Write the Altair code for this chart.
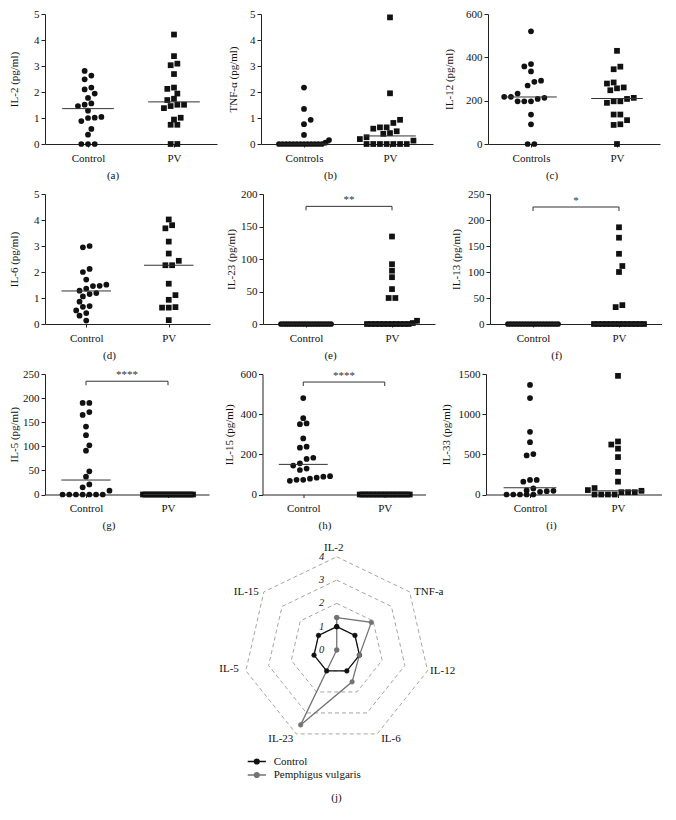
import math
import altair as alt
import pandas as pd

FONT = "Liberation Serif"
INK = "#111111"

# ---------------- data ----------------
a_ctrl = [2.81, 2.63, 2.49, 2.17, 2.10, 1.94, 1.77, 1.56, 1.51, 1.46, 1.28, 1.04, 1.01, 1.00, 0.88, 0.58, 0.36, 0, 0, 0]
a_pv = [4.21, 3.38, 3.09, 3.03, 2.69, 2.17, 2.12, 1.94, 1.74, 1.69, 1.51, 1.51, 1.46, 1.38, 1.01, 0.94, 0.74, 0.74, 0, 0]
a_med = [1.36, 1.62]

b_ctrl = [2.17, 1.35, 0.93, 0.76, 0.35, 0.15, 0.05, 0, 0, 0, 0, 0, 0, 0, 0, 0, 0, 0, 0, 0]
b_pv = [4.87, 1.95, 0.93, 0.81, 0.64, 0.64, 0.59, 0.49, 0.42, 0.39, 0.26, 0.19, 0.13, 0, 0, 0, 0, 0, 0, 0]
b_med = [0, 0.31]

c_ctrl = [520, 369, 358, 335, 292, 287, 270, 233, 218, 218, 213, 208, 197, 197, 197, 136, 91, 0, 0]
c_pv = [430, 357, 345, 284, 279, 261, 257, 248, 213, 208, 197, 197, 190, 136, 136, 110, 91, 88, 0]
c_med = [217, 210]

d_ctrl = [3.00, 2.95, 2.12, 2.00, 1.71, 1.51, 1.47, 1.46, 1.36, 1.28, 1.19, 1.15, 1.06, 0.86, 0.69, 0.66, 0.52, 0.42, 0.32, 0.13]
d_pv = [4.02, 3.80, 3.68, 3.17, 2.71, 2.43, 2.26, 2.26, 1.55, 1.11, 0.93, 0.65, 0.63, 0.63, 0.15]
d_med = [1.27, 2.26]

e_ctrl = [0, 0, 0, 0, 0, 0, 0, 0, 0, 0, 0, 0, 0, 0, 0, 0, 0, 0, 0, 0]
e_pv = [134.6, 92, 82, 72, 53.7, 40, 40, 5, 1.5, 0, 0, 0, 0, 0, 0, 0, 0, 0, 0, 0]
e_med = [0, 0]

f_ctrl = [0, 0, 0, 0, 0, 0, 0, 0, 0, 0, 0, 0, 0, 0, 0, 0, 0, 0]
f_pv = [186, 166, 135, 111.5, 100, 36.3, 32.5, 0, 0, 0, 0, 0, 0, 0, 0, 0, 0, 0, 0, 0]
f_med = [0, 0]

g_ctrl = [190, 190, 171, 165, 141, 123, 102, 91, 48, 37, 21, 15, 8, 0, 0, 0, 0, 0, 0, 0]
g_pv = [0, 0, 0, 0, 0, 0, 0, 0, 0, 0, 0, 0, 0, 0, 0, 0, 0, 0, 0, 0]
g_med = [30, 0]

h_ctrl = [480, 380, 354, 350, 279, 238, 233, 183, 177, 155, 144, 129, 122, 91, 89, 84, 79, 73, 73, 68]
h_pv = [0, 0, 0, 0, 0, 0, 0, 0, 0, 0, 0, 0, 0, 0, 0, 0, 0, 0, 0, 0]
h_med = [150, 0]

i_ctrl = [1364, 1200, 781, 651, 504, 487, 181, 181, 160, 76, 50, 46, 42, 34, 0, 0, 0, 0, 0]
i_pv = [1477, 660, 622, 571, 466, 282, 160, 80, 55, 46, 29, 29, 29, 0, 0, 0, 0]
i_med = [84, 46]

# significance brackets: (level, label)
e_sig = (181, "**")
f_sig = (225, "*")
g_sig = (235, "****")
h_sig = (560, "****")

# radar (fold change relative to control)
radar_axes = ["IL-2", "TNF-a", "IL-12", "IL-6", "IL-23", "IL-5", "IL-15"]
radar_control = [1, 1, 1, 1, 1, 1, 1]
radar_pv = [1.39, 1.90, 1.00, 1.52, 3.57, 0, 0]
ring_levels = [1, 2, 3, 4]
ring_ticks = [0, 1, 2, 3, 4]
groups = ["Control", "Pemphigus vulgaris"]

L0 = 22  # common label extent of the first column (keeps the column aligned)


# ---------------- helpers ----------------
def swarm(vals, dmax, H, d=6.7, maxhalf=25.0, thr=4.0):
    """Prism-like horizontal arrangement of points (offsets in px)."""
    n = len(vals)
    ys = [v / dmax * H for v in vals]
    order = sorted(range(n), key=lambda i: ys[i])
    rows = []
    for i in order:
        if rows and ys[i] - ys[rows[-1][0]] < thr:
            rows[-1].append(i)
        else:
            rows.append([i])
    offs = [0.0] * n
    placed = []
    for row in rows:
        m = len(row)
        s = d if m == 1 else min(d, 2 * maxhalf / (m - 1))
        base = [(k - (m - 1) / 2.0) * s for k in range(m)]
        chosen = 0.0
        done = False
        for k in range(0, 9):
            cands = [0.0] if k == 0 else [k * d / 2.0, -k * d / 2.0]
            for sh in cands:
                ok = True
                for b, i in zip(base, row):
                    for (px, py) in placed:
                        if (b + sh - px) ** 2 + (ys[i] - py) ** 2 < (0.92 * d) ** 2:
                            ok = False
                            break
                    if not ok:
                        break
                if ok:
                    chosen = sh
                    done = True
                    break
            if done:
                break
        for b, i in zip(base, row):
            offs[i] = b + chosen
            placed.append((b + chosen, ys[i]))
    return offs


def scatter_panel(title, cats, ctrl, pv, med, ticks, caption, W, H, L, sig=None):
    dmax = ticks[-1]
    rows = []
    for g, (vals, shape) in enumerate([(ctrl, "circle"), (pv, "square")]):
        offs = swarm(vals, dmax, H)
        for v, o in zip(vals, offs):
            rows.append({"pos": g + o / (W / 2.0), "value": v, "shape": shape})
    pts = pd.DataFrame(rows)
    E = L + 4 + 11
    xs = alt.Scale(domain=[-0.5, 1.5], nice=False, zero=False)
    ys = alt.Scale(domain=[0, dmax], nice=False)
    xaxis = alt.Axis(values=[0, 1], labelExpr=f"datum.value == 0 ? '{cats[0]}' : '{cats[1]}'",
                     title=caption, titleX=(W - E) / 2.0, tickSize=3, labelPadding=5,
                     titlePadding=6, grid=False, labelFlush=False)
    yaxis = alt.Axis(values=ticks, format="d", title=title, titlePadding=4, minExtent=L,
                     maxExtent=L, tickSize=4, labelPadding=2, grid=False)

    def X(f):
        return alt.X(f, scale=xs, axis=xaxis)

    def Y(f):
        return alt.Y(f, scale=ys, axis=yaxis)

    layers = []
    layers.append(alt.Chart(pts).mark_point(filled=True, opacity=1, color=INK, size=33).encode(
        x=X("pos:Q"), y=Y("value:Q"), shape=alt.Shape("shape:N", scale=None)))
    med_df = pd.DataFrame({"grp": [0, 1], "value": med})
    layers.append(alt.Chart(med_df).transform_calculate(
        x1="datum.grp - 0.3", x2="datum.grp + 0.3").mark_rule(color="#333333", strokeWidth=1).encode(
        x=X("x1:Q"), x2="x2:Q", y=Y("value:Q")))
    if sig is not None:
        lvl, lab = sig
        tick = 4.0 / H * dmax
        br = pd.DataFrame({"a": [0], "b": [1], "lvl": [lvl], "lab": [lab]})
        ends = pd.DataFrame({"p": [0, 1], "lvl": [lvl, lvl]})
        layers.append(alt.Chart(br).mark_rule(color="#333333", strokeWidth=1).encode(
            x=X("a:Q"), x2="b:Q", y=Y("lvl:Q")))
        layers.append(alt.Chart(ends).transform_calculate(low=f"datum.lvl - {tick}").mark_rule(
            color="#333333", strokeWidth=1).encode(x=X("p:Q"), y=Y("lvl:Q"), y2="low:Q"))
        layers.append(alt.Chart(br).transform_calculate(mid="(datum.a + datum.b) / 2").mark_text(
            baseline="bottom", dy=-1, fontSize=11, font=FONT, color="#333333").encode(
            x=X("mid:Q"), y=Y("lvl:Q"), text="lab:N"))
    return alt.layer(*layers).properties(width=W, height=H)


pa = scatter_panel("IL-2 (pg/ml)", ["Control", "PV"], a_ctrl, a_pv, a_med, [0, 1, 2, 3, 4, 5], "(a)", 172, 130, L0)
pb = scatter_panel("TNF-α (pg/ml)", ["Controls", "PV"], b_ctrl, b_pv, b_med, [0, 1, 2, 3, 4, 5], "(b)", 172, 130, 19)
pc = scatter_panel("IL-12 (pg/ml)", ["Controls", "PV"], c_ctrl, c_pv, c_med, [0, 200, 400, 600], "(c)", 172, 130, 30)

pd_ = scatter_panel("IL-6 (pg/ml)", ["Control", "PV"], d_ctrl, d_pv, d_med, [0, 1, 2, 3, 4, 5], "(d)", 165, 130, L0)
pe = scatter_panel("IL-23 (pg/ml)", ["Control", "PV"], e_ctrl, e_pv, e_med, [0, 50, 100, 150, 200], "(e)", 172, 130, 23, e_sig)
pf = scatter_panel("IL-13 (pg/ml)", ["Control", "PV"], f_ctrl, f_pv, f_med, [0, 50, 100, 150, 200, 250], "(f)", 172, 130, 24.5, f_sig)

pg = scatter_panel("IL-5 (pg/ml)", ["Control", "PV"], g_ctrl, g_pv, g_med, [0, 50, 100, 150, 200, 250], "(g)", 164, 120.5, L0, g_sig)
ph = scatter_panel("IL-15 (pg/ml)", ["Control", "PV"], h_ctrl, h_pv, h_med, [0, 200, 400, 600], "(h)", 163, 120.5, 24, h_sig)
pi = scatter_panel("IL-33 (pg/ml)", ["Control", "PV"], i_ctrl, i_pv, i_med, [0, 500, 1000, 1500], "(i)", 176, 120.5, 31)

row1 = alt.hconcat(pa, pb, pc, spacing=10)
row2 = alt.hconcat(pd_, pe, pf, spacing=15)
row3 = alt.hconcat(pg, ph, pi, spacing=14.5)
grid = alt.vconcat(row1, row2, row3, spacing=8)

# ---------------- radar ----------------
N = len(radar_axes)
ANG = f"datum.idx * 2 * PI / {N}"
poly_rows = []
for grp, vals in zip(groups, [radar_control, radar_pv]):
    for i, v in enumerate(vals + vals[:1]):
        poly_rows.append({"group": grp, "idx": i, "value": v})
poly = pd.DataFrame(poly_rows)
rings = pd.DataFrame([{"level": lv, "idx": i} for lv in ring_levels for i in range(N + 1)])
axlab = pd.DataFrame({"idx": list(range(N)), "name": radar_axes})
rticks = pd.DataFrame({"level": ring_ticks})

RW, RH = 583, 249
rx = alt.Scale(domain=[-12.52, 12.50], nice=False, zero=False)
ry = alt.Scale(domain=[-5.84, 4.85], nice=False, zero=False)
cs = alt.Scale(domain=groups, range=["#111111", "#737373"])
PATH = "M-1.4,0L1.4,0M0.38,0A0.38,0.38,0,1,1,-0.38,0A0.38,0.38,0,1,1,0.38,0Z"
LEG = alt.Legend(title=None, orient="none", legendX=204.3, legendY=217, symbolType=PATH,
                 symbolSize=169, symbolStrokeWidth=1.3, labelFont=FONT, labelFontSize=11,
                 labelColor=INK, labelOffset=9.4, rowPadding=0.5, padding=0)
# hidden y axis: gives the radar the same left extent as the first column of panels
RAXIS = alt.Axis(title="IL-2 (pg/ml)", titleColor="transparent", labelColor="transparent",
                 ticks=False, domain=False, grid=False, minExtent=L0, maxExtent=L0, titlePadding=4)


def RX(f):
    return alt.X(f, scale=rx, axis=None)


def RY(f):
    return alt.Y(f, scale=ry, axis=RAXIS)


ring_layer = alt.Chart(rings).transform_calculate(
    x=f"datum.level * sin({ANG})", y=f"datum.level * cos({ANG})").mark_line(
    color="#9a9a9a", strokeDash=[4, 3], strokeWidth=0.9).encode(
    x=RX("x:Q"), y=RY("y:Q"), detail="level:N", order="idx:Q")

tick_layer = alt.Chart(rticks).transform_calculate(x="0", y="datum.level").mark_text(
    font=FONT, fontSize=10.5, fontStyle="italic", color="#222222", dx=-15, baseline="middle").encode(
    x=RX("x:Q"), y=RY("y:Q"), text="level:N")

label_styles = [
    dict(align="center", baseline="bottom", dx=-3, dy=-4),
    dict(align="left", baseline="middle", dx=4.5, dy=0),
    dict(align="left", baseline="middle", dx=2.5, dy=0),
    dict(align="left", baseline="top", dx=4, dy=-1),
    dict(align="right", baseline="top", dx=-3, dy=-1),
    dict(align="right", baseline="middle", dx=-7, dy=-2),
    dict(align="right", baseline="middle", dx=-5, dy=0),
]
RMAX = max(ring_levels)
label_layers = []
for k, st in enumerate(label_styles):
    label_layers.append(alt.Chart(axlab).transform_filter(f"datum.idx == {k}").transform_calculate(
        x=f"{RMAX} * sin({ANG})", y=f"{RMAX} * cos({ANG})").mark_text(
        font=FONT, fontSize=11, color=INK, **st).encode(x=RX("x:Q"), y=RY("y:Q"), text="name:N"))

line_layer = alt.Chart(poly).transform_calculate(
    x=f"datum.value * sin({ANG})", y=f"datum.value * cos({ANG})").mark_line(strokeWidth=1.3).encode(
    x=RX("x:Q"), y=RY("y:Q"), stroke=alt.Stroke("group:N", scale=cs, legend=LEG), order="idx:Q")

pt_layer = alt.Chart(poly).transform_calculate(
    x=f"datum.value * sin({ANG})", y=f"datum.value * cos({ANG})").mark_point(
    filled=True, opacity=1, size=22, strokeWidth=0.5).encode(
    x=RX("x:Q"), y=RY("y:Q"),
    fill=alt.Fill("group:N", scale=cs, legend=LEG),
    stroke=alt.Stroke("group:N", scale=cs, legend=LEG))

radar = alt.layer(ring_layer, tick_layer, *label_layers, line_layer, pt_layer).properties(
    width=RW, height=RH,
    title=alt.TitleParams("(j)", orient="bottom", offset=6, font=FONT, fontSize=11,
                          fontWeight="normal", color=INK))

chart = alt.vconcat(grid, radar, spacing=6).resolve_scale(
    fill="independent", stroke="independent").resolve_legend(
    fill="independent", stroke="independent").properties(padding=0).configure(
    font=FONT).configure_view(stroke=None).configure_axis(
    labelFont=FONT, titleFont=FONT, labelFontSize=11, titleFontSize=11, titleFontWeight="normal",
    labelColor=INK, titleColor=INK, domainColor="#222222", tickColor="#222222",
    domainWidth=1, tickWidth=1).configure_text(font=FONT)

chart.save("out.html", embed_options={"renderer": "svg", "actions": False})
